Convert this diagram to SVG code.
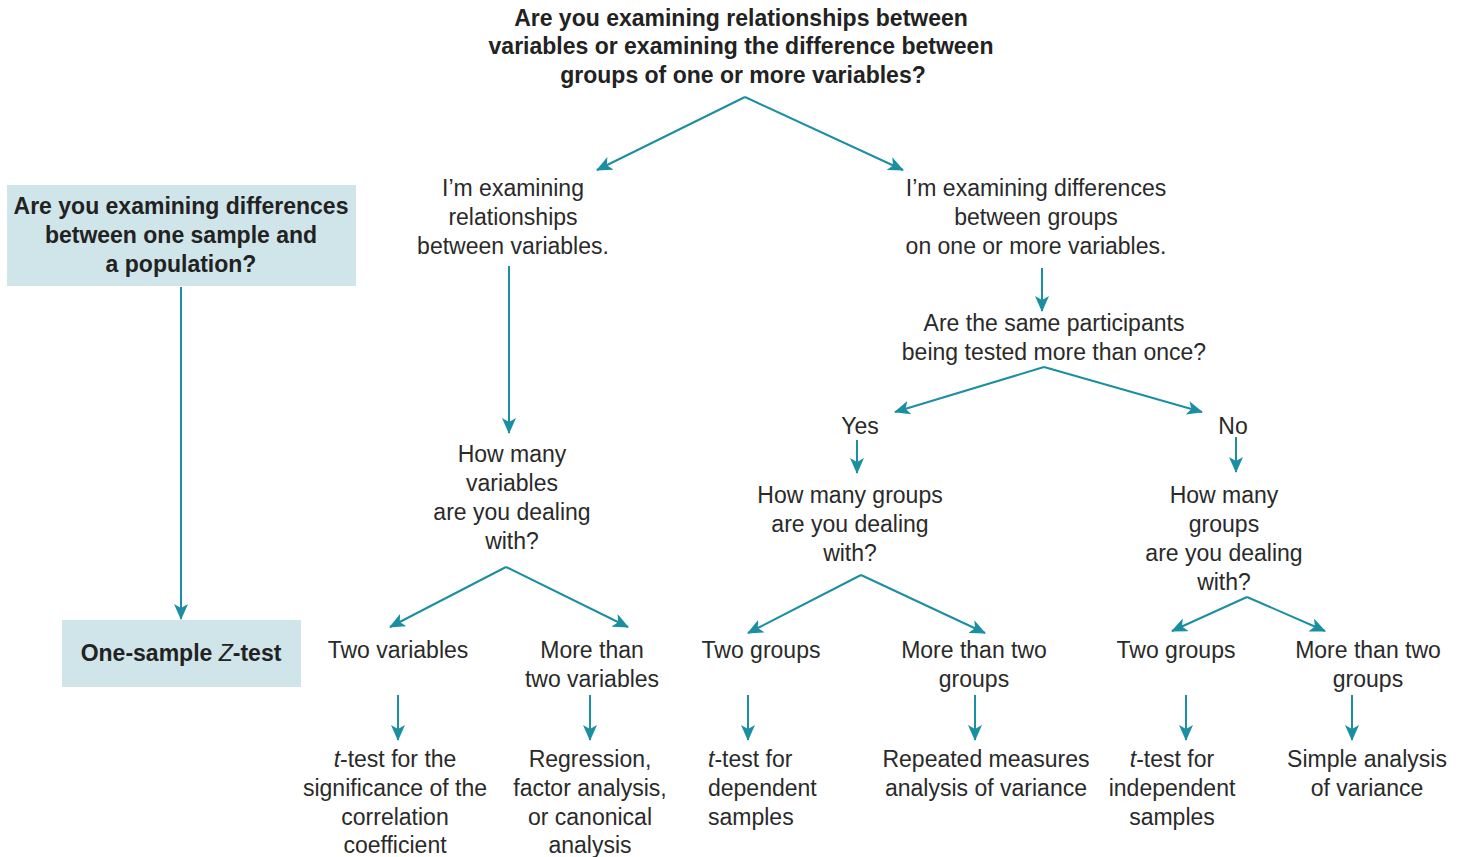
<svg xmlns="http://www.w3.org/2000/svg" width="1465" height="857" viewBox="0 0 1465 857">
<defs>
<marker id="ah" viewBox="0 0 16 14" refX="15" refY="7" markerWidth="16" markerHeight="14" markerUnits="userSpaceOnUse" orient="auto">
<path d="M0,0 L16,7 L0,14 L4,7 z" fill="#1b8fa2"/>
</marker>
<style>
text{font-family:"Liberation Sans",Arial,sans-serif;font-size:23px;fill:#2a2a2a;text-anchor:middle}
.b{font-weight:bold;fill:#222}
.l{text-anchor:start}
.box{fill:#cfe5e9}
.c line{stroke:#1b8fa2;stroke-width:2;marker-end:url(#ah)}
</style>
</defs>
<rect width="1465" height="857" fill="#fff"/>
<g id="q-top">
<text class="b" x="741" y="26">Are you examining relationships between</text>
<text class="b" x="741" y="54">variables or examining the difference between</text>
<text class="b" x="743" y="83">groups of one or more variables?</text>
</g>
<g id="q-sample">
<rect class="box" x="7" y="185" width="349" height="101"/>
<text class="b" x="181" y="214">Are you examining differences</text>
<text class="b" x="181" y="243">between one sample and</text>
<text class="b" x="181" y="272">a population?</text>
</g>
<g id="ztest">
<rect class="box" x="62" y="620" width="239" height="67"/>
<text class="b" x="181" y="661">One-sample <tspan font-style="italic" font-weight="normal">Z</tspan>-test</text>
</g>
<g id="rel">
<text x="513" y="196">I’m examining</text>
<text x="513" y="225">relationships</text>
<text x="513" y="254">between variables.</text>
</g>
<g id="diff">
<text x="1036" y="196">I’m examining differences</text>
<text x="1036" y="225">between groups</text>
<text x="1036" y="254">on one or more variables.</text>
</g>
<g id="same">
<text x="1054" y="331">Are the same participants</text>
<text x="1054" y="360">being tested more than once?</text>
</g>
<g id="yes"><text x="860" y="434">Yes</text></g>
<g id="no"><text x="1233" y="434">No</text></g>
<g id="howvars">
<text x="512" y="462">How many</text>
<text x="512" y="491">variables</text>
<text x="512" y="520">are you dealing</text>
<text x="512" y="549">with?</text>
</g>
<g id="howgroups-dep">
<text x="850" y="503">How many groups</text>
<text x="850" y="532">are you dealing</text>
<text x="850" y="561">with?</text>
</g>
<g id="howgroups-ind">
<text x="1224" y="503">How many</text>
<text x="1224" y="532">groups</text>
<text x="1224" y="561">are you dealing</text>
<text x="1224" y="590">with?</text>
</g>
<g id="twovars"><text x="398" y="658">Two variables</text></g>
<g id="morevars">
<text x="592" y="658">More than</text>
<text x="592" y="687">two variables</text>
</g>
<g id="twogroups-dep"><text x="761" y="658">Two groups</text></g>
<g id="moregroups-dep">
<text x="974" y="658">More than two</text>
<text x="974" y="687">groups</text>
</g>
<g id="twogroups-ind"><text x="1176" y="658">Two groups</text></g>
<g id="moregroups-ind">
<text x="1368" y="658">More than two</text>
<text x="1368" y="687">groups</text>
</g>
<g id="ttest-corr">
<text x="395" y="767"><tspan font-style="italic">t</tspan>-test for the</text>
<text x="395" y="796">significance of the</text>
<text x="395" y="825">correlation</text>
<text x="395" y="853">coefficient</text>
</g>
<g id="regression">
<text x="590" y="767">Regression,</text>
<text x="590" y="796">factor analysis,</text>
<text x="590" y="825">or canonical</text>
<text x="590" y="853">analysis</text>
</g>
<g id="ttest-dep">
<text class="l" x="708" y="767"><tspan font-style="italic">t</tspan>-test for</text>
<text class="l" x="708" y="796">dependent</text>
<text class="l" x="708" y="825">samples</text>
</g>
<g id="rm-anova">
<text x="986" y="767">Repeated measures</text>
<text x="986" y="796">analysis of variance</text>
</g>
<g id="ttest-ind">
<text x="1172" y="767"><tspan font-style="italic">t</tspan>-test for</text>
<text x="1172" y="796">independent</text>
<text x="1172" y="825">samples</text>
</g>
<g id="anova">
<text x="1367" y="767">Simple analysis</text>
<text x="1367" y="796">of variance</text>
</g>
<g id="connectors" class="c">
<line x1="181" y1="287" x2="181" y2="619"/>
<line x1="745" y1="97" x2="597" y2="170"/>
<line x1="745" y1="97" x2="903" y2="170"/>
<line x1="509" y1="266" x2="509" y2="433"/>
<line x1="1042" y1="268" x2="1042" y2="311"/>
<line x1="1044" y1="367" x2="895" y2="412"/>
<line x1="1044" y1="367" x2="1202" y2="412"/>
<line x1="857" y1="440" x2="857" y2="473"/>
<line x1="1236" y1="437" x2="1236" y2="472"/>
<line x1="506" y1="567" x2="390" y2="627"/>
<line x1="506" y1="567" x2="628" y2="627"/>
<line x1="861" y1="575" x2="748" y2="633"/>
<line x1="861" y1="575" x2="985" y2="633"/>
<line x1="1247" y1="597" x2="1172" y2="631"/>
<line x1="1247" y1="597" x2="1325" y2="631"/>
<line x1="398" y1="695" x2="398" y2="740"/>
<line x1="590" y1="695" x2="590" y2="740"/>
<line x1="748" y1="695" x2="748" y2="740"/>
<line x1="975" y1="695" x2="975" y2="740"/>
<line x1="1186" y1="695" x2="1186" y2="740"/>
<line x1="1352" y1="695" x2="1352" y2="740"/>
</g>
</svg>
